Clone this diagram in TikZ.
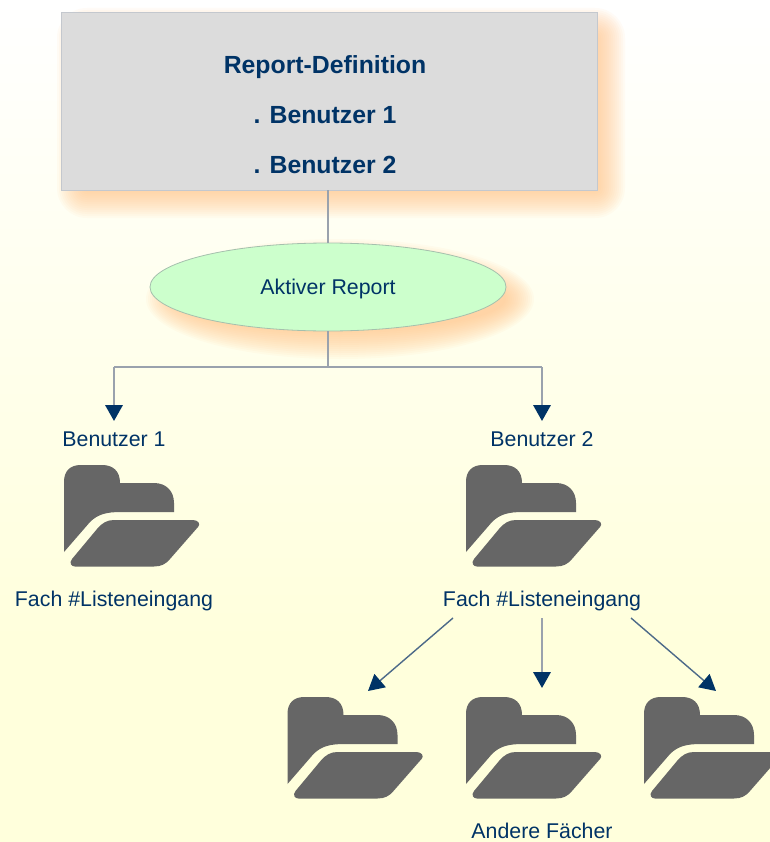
\documentclass[tikz,border=0pt]{standalone}
\usepackage{fontspec}
\setmainfont{Liberation Sans}
\usetikzlibrary{arrows.meta,shapes.geometric,calc}
\definecolor{navy}{HTML}{003366}
\definecolor{linegrey}{HTML}{9AA2AD}
\definecolor{bgend}{HTML}{FFFFDC}
\definecolor{shadoworange}{HTML}{FFBE7C}
\definecolor{boxgrey}{HTML}{DCDCDC}
\definecolor{boxedge}{HTML}{C4C8CE}
\definecolor{mint}{HTML}{CCFFCC}
\definecolor{mintedge}{HTML}{A5C0AD}
\definecolor{foldergrey}{HTML}{666666}
\tikzset{
  x=0.75pt,y=-0.75pt,
  lbl/.style={text=navy,font=\fontsize{16pt}{18pt}\selectfont,inner sep=0pt,anchor=center},
  ellbl/.style={text=navy,font=\fontsize{16pt}{18pt}\selectfont,inner sep=0pt,anchor=center},
  boldlbl/.style={text=navy,font=\bfseries\fontsize{18.6pt}{22pt}\selectfont,inner sep=0pt,anchor=center},
  conn/.style={draw=linegrey,line width=1.8pt},
  arrowconn/.style={conn,-{Triangle[color=navy,length=12pt,width=13pt]}},
  thinarrow/.style={draw=linegrey!50!navy,line width=1.05pt,-{Triangle[color=navy,length=12pt,width=13pt]}},
  folderpic/.pic={
    \fill[foldergrey] (0,87) -- (0,17) .. controls (0,6) and (6,0) .. (17,0)
      -- (38,0) .. controls (49,0) and (56,6) .. (56,18)
      -- (90,18) .. controls (102,18) and (110,26) .. (110,38)
      -- (110,47) -- (57,47) .. controls (43,47) and (34,49) .. (26,57) -- cycle;
    \fill[foldergrey] (50,55) -- (129,55) .. controls (134,55) and (137,59) .. (134,62)
      -- (106,94) .. controls (102,99) and (97,101.5) .. (90,101.5)
      -- (11,101.5) .. controls (7,101.5) and (5,98) .. (8,94)
      -- (33,64) .. controls (38,58) and (43,55) .. (50,55) -- cycle;
  }
}
\begin{document}
\begin{tikzpicture}
\useasboundingbox (0,0) rectangle (770,842);
\shade[top color=white,bottom color=bgend] (0,0) rectangle (770,640);
\fill[bgend] (0,639.5) rectangle (770,842);
% soft shadows
\foreach \g in {16,14,...,-12}{
  \fill[shadoworange,opacity=0.06,rounded corners=(\g+14)*0.75pt]
    (73-\g,24-\g) rectangle (609+\g,202+\g);
  \fill[shadoworange,opacity=0.06]
    (340,299) ellipse ({(178+\g)*0.75pt} and {(44+\g)*0.75pt});
}
\node[draw=boxedge,fill=boxgrey,line width=0.6pt,minimum width=402pt,minimum height=133.5pt,inner sep=0pt] (def) at (329,101) {};
\node[boldlbl] (t1) at (325,67) {Report-Definition};
\node[boldlbl] (t2) at (325,115) {. Benutzer 1};
\node[boldlbl] (t3) at (325,165) {. Benutzer 2};
\node[ellipse,draw=mintedge,fill=mint,line width=0.6pt,minimum width=267pt,minimum height=66pt,inner sep=0pt] (akt) at (328,287) {};
\node[ellbl] (aktl) at (328,289) {Aktiver Report};
\coordinate (j) at (328,367);
\coordinate (defout) at (328,190);
\coordinate (l) at (114,367);
\coordinate (r) at (542,367);
\coordinate (la) at (114,421);
\coordinate (ra) at (542,421);
\node[lbl] (b1) at (114,439) {Benutzer 1};
\node[lbl] (b2) at (542,439) {Benutzer 2};
\node[lbl] (f1) at (114,601) {Fach \#Listeneingang};
\node[lbl] (f2) at (542,601) {Fach \#Listeneingang};
\node[lbl] (and) at (542,831) {Andere Fächer};
\pic at (64,465) {folderpic};
\pic at (466,465) {folderpic};
\pic at (287.5,697) {folderpic};
\pic at (466,697) {folderpic};
\pic at (644,697) {folderpic};
\draw[conn] (defout) -- (akt.north);
\draw[conn] (akt.south) -- (j);
\draw[conn] (l) -- (r);
\draw[arrowconn] (l) -- (la);
\draw[arrowconn] (r) -- (ra);
\coordinate (s1) at (453,618);
\coordinate (s2) at (542,618);
\coordinate (s3) at (631,618);
\coordinate (e1) at (368,691);
\coordinate (e2) at (542,688);
\coordinate (e3) at (716,691);
\draw[thinarrow] (s1) -- (e1);
\draw[arrowconn] (s2) -- (e2);
\draw[thinarrow] (s3) -- (e3);
\end{tikzpicture}
\end{document}
